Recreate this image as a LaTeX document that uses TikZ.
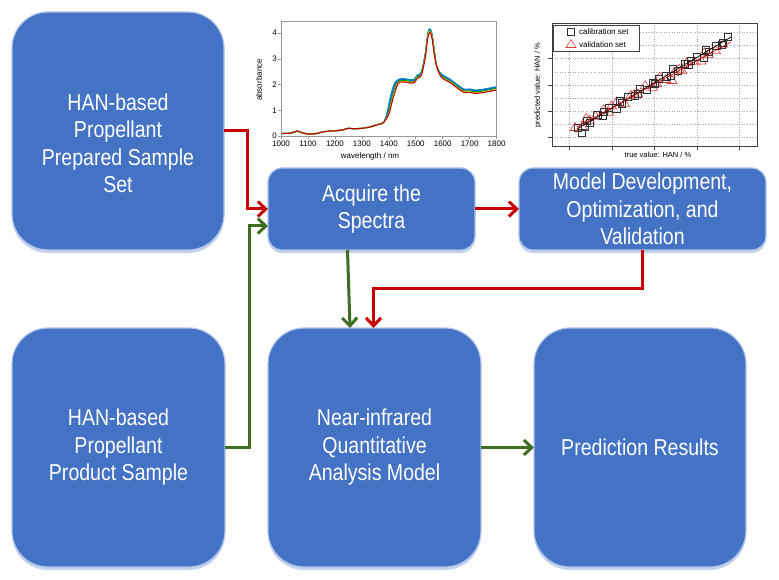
\documentclass[tikz,border=0pt]{standalone}
\usepackage{fontspec}
\setmainfont{Liberation Sans}[FakeStretch=0.85]
\newfontfamily\plotfont{Liberation Sans}
\usetikzlibrary{arrows.meta,shadows}
\definecolor{boxblue}{HTML}{4472C4}
\definecolor{boxedge}{HTML}{AFC5EC}
\definecolor{shadowblue}{HTML}{9DB4DE}
\definecolor{arrred}{HTML}{C80000}
\definecolor{arrgreen}{HTML}{3F6E22}
\definecolor{trired}{HTML}{E03A3A}
\newcommand\boxfont{\fontsize{23}{27.5}\selectfont}
\newcommand\tickfont{\plotfont\fontsize{8}{9}\selectfont}
\newcommand\speccurve[4]{%
\draw[#1, line width=1.1pt] plot[smooth, tension=0.5] coordinates {(0,0.1) (20,0.1) (40,0.12) (60,0.19) (80,0.12) (100,0.08) (130,0.09) (160,0.17) (200,0.2) (230,0.24) (250,0.3) (270,0.28) (300,0.3) (330,0.35) (360,0.45) (380,0.52) ({395+(#4)},0.85) ({410+(#4)},{1.5+(#2)}) ({425+(#4)},{2.0+(#2)}) (440,{2.15+(#2)}) (460,{2.16+(#2)}) (480,{2.12+(#2)}) (495,{2.14+(#2)}) (505,{2.3+(#2)}) (520,{2.4+(#2)}) (535,{3.1+(#3)}) (545,{3.9+(#3)}) (552,{4.08+(#3)}) (560,{3.9+(#3)}) (568,{3.3+(#3)}) (578,2.7) (595,{2.35+(#2)}) (630,{2.12+(#2)}) (660,{1.88+(#2)}) (680,{1.75+(#2)}) (700,{1.76+(#2)}) (720,{1.72+(#2)}) (750,{1.75+(#2)}) (800,{1.85+(#2)})};}
\begin{document}
\begin{tikzpicture}[x=1pt,y=-1pt,
  box/.style={rounded corners=#1, fill=boxblue, draw=boxedge, line width=1.2pt,
    inner sep=0pt, outer sep=0pt, text=white, align=center, font=\boxfont,
    drop shadow={shadow xshift=0pt,shadow yshift=-3pt,fill=shadowblue,opacity=0.6}},
  boxtext/.style={text=white, align=center, font=\boxfont},
  rarr/.style={draw=arrred, line width=3pt, -{Straight Barb[length=8pt,width=15pt]}},
  garr/.style={draw=arrgreen, line width=3pt, -{Straight Barb[length=8pt,width=15pt]}},
  lab/.style={font=\tickfont, inner sep=0pt},
  sq/.style={draw=black!80, line width=0.6pt},
  tri/.style={draw=trired, line width=0.6pt}]
\useasboundingbox (0,0) rectangle (779,580);

% ---------- boxes ----------
\node[box=36pt, minimum width=212pt, minimum height=238pt,
  label={[boxtext, yshift=-12.5pt]center:{HAN-based\\Propellant\\Prepared Sample\\Set}}] (A) at (118,131) {};
\node[box=14pt, minimum width=207pt, minimum height=82pt] (B) at (371.5,209) {Acquire the\\Spectra};
\node[box=14pt, minimum width=247pt, minimum height=82pt] (C) at (642.5,209) {Model Development,\\Optimization, and\\Validation};
\node[box=36pt, minimum width=213pt, minimum height=239pt] (D) at (118.5,447.5) {HAN-based\\Propellant\\Product Sample};
\node[box=36pt, minimum width=213pt, minimum height=239pt] (E) at (374.5,447.5) {Near-infrared\\Quantitative\\Analysis Model};
\node[box=36pt, minimum width=212pt, minimum height=239pt] (F) at (640,447.5) {Prediction Results};

% ---------- connectors ----------
\draw[rarr] (A.east) -- ++(23,0) |- (B.west);
\draw[garr] (D.east) -- ++(24,0) |- ([yshift=-17pt]B.west);
\draw[rarr] (B.east) -- (C.west);
\draw[garr] ([xshift=-24pt]B.south) -- ([xshift=-24.5pt]E.north);
\draw[rarr] (C.south) -- ++(0,38) -| ([xshift=-1pt]E.north);
\draw[garr] (E.east) -- (F.west);

% ---------- spectra plot ----------
\begin{scope}[shift={(281pt,-136pt)}, x=0.2695pt, y=25.7pt]
  \speccurve{teal!80!cyan}{0.07}{0.09}{-3}
  \speccurve{blue!60!cyan}{0.04}{0.05}{-1}
  \speccurve{green!60!black}{0.0}{0.02}{2}
  \speccurve{yellow!80!orange}{-0.04}{-0.02}{4}
  \speccurve{red!75!black}{-0.06}{-0.06}{5}
  \draw[gray!80, line width=0.6pt] (0,0) rectangle (800,4.47);
  \foreach \a in {0,...,4} {
    \draw[gray!80, line width=0.6pt] (0,\a) -- ++(-3pt,0pt);
    \node[lab, anchor=east] (sy\a) at ([xshift=-4pt]0,\a) {\a};
  }
  \foreach \v in {1000,1100,...,1800} {
    \pgfmathsetmacro\xx{\v-1000}
    \draw[gray!80, line width=0.6pt] (\xx,0) -- ++(0pt,-3pt);
    \node[lab, anchor=north] (sx\v) at ([yshift=-5pt]\xx,0) {\v};
  }
\end{scope}
\node[lab, rotate=90] (ylab1) at (259,80) {absorbance};
\node[lab] (xlab1) at (370,156) {wavelength / nm};

% ---------- scatter plot ----------
\foreach \gx in {569,612,654,697,739}
  \draw[gray!70, dotted, line width=0.6pt] (\gx,23) -- (\gx,146);
\foreach \gy in {32,45,58,72,85,98,111,124,137}
  \draw[gray!70, dotted, line width=0.6pt] (552,\gy) -- (757,\gy);
\foreach \gx in {569,612,654,697,739}
  \draw[black!75, line width=0.6pt] (\gx,146) -- (\gx,150);
\foreach \gy in {58,85,111,137}
  \draw[black!75, line width=0.6pt] (552,\gy) -- (548,\gy);
\draw[black!75, line width=0.7pt] (552,23) rectangle (757,146);
\draw[fill=white, draw=black!75, line width=0.6pt] (553,25) rectangle (639,51);
\draw[sq] (571,32) ++(-3.6,-3.6) rectangle ++(7.2,7.2);
\draw[tri] (571,39.5) -- (576,47.5) -- (566,47.5) -- cycle;
\node[lab, anchor=west] (legcal) at (579,32) {calibration set};
\node[lab, anchor=west] (legval) at (579,44.5) {validation set};
\foreach \i in {0,...,27} {
  \pgfmathsetmacro\tt{\i/27*0.96}
  \pgfmathsetmacro\px{575+152*\tt+2*sin(\i*83)}
  \pgfmathsetmacro\py{127-84*\tt+3*sin(\i*131)}
  \draw[tri] (\px,\py) ++(0,-4.5) -- ++(5,8) -- ++(-10,0) -- cycle;
}
\draw[tri] (672,80) ++(0,-4.5) -- ++(5,8) -- ++(-10,0) -- cycle;
\foreach \i in {0,...,33} {
  \pgfmathsetmacro\tt{\i/33}
  \pgfmathsetmacro\px{578+151*\tt+2*sin(\i*97)}
  \pgfmathsetmacro\py{128-89*\tt+2.5*sin(\i*151)}
  \draw[sq] (\px,\py) ++(-3.6,-3.6) rectangle ++(7.2,7.2);
}
\draw[sq] (582,133) ++(-3.6,-3.6) rectangle ++(7.2,7.2);
\draw[black, line width=0.7pt] (577,129) -- (731,37);
\draw[red!80!black, line width=0.6pt] (577,127) -- (731,42);
\node[lab, font=\plotfont\fontsize{7.5}{9}\selectfont] (xlab2) at (658,155) {true value: HAN / \%};
\node[lab, rotate=90, font=\plotfont\fontsize{7.5}{9}\selectfont] (ylab2) at (538,85) {predicted value: HAN / \%};
\end{tikzpicture}
\end{document}
